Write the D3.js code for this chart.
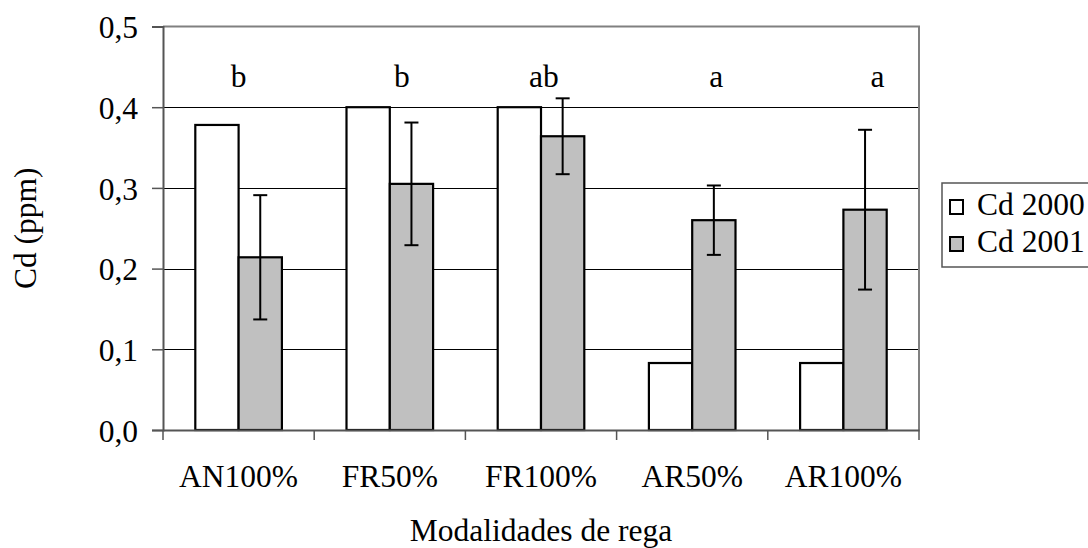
<!DOCTYPE html>
<html>
<head>
<meta charset="utf-8">
<script src="https://cdn.jsdelivr.net/npm/d3@7"></script>
<style>
  body { margin: 0; background: #fff; }
  svg, svg text { font-family: 'Liberation Serif', 'DejaVu Serif', 'Times New Roman', serif !important; }
</style>
</head>
<body>
<svg id="chart" width="1088" height="548"></svg>
<script>
// Data
const categories = ['AN100%', 'FR50%', 'FR100%', 'AR50%', 'AR100%']
const series = ['Cd 2000', 'Cd 2001']
const cd2000 = [0.378, 0.400, 0.400, 0.083, 0.083]
const cd2001 = [0.214, 0.305, 0.364, 0.260, 0.273]
const cd2001Err = [0.077, 0.076, 0.047, 0.043, 0.099]
const letters = ['b', 'b', 'ab', 'a', 'a']
const yTicks = [0, 0.1, 0.2, 0.3, 0.4, 0.5]

// Layout
const plot = {left: 163, right: 919, top: 26.5, bottom: 430}
const letterDx = [0, 12, 3, 24, 34]
const fontSize = 31.5
const serif = "'Liberation Serif', 'DejaVu Serif', 'Times New Roman', serif"
const fills = ['#ffffff', '#c0c0c0']

const svg = d3.select('#chart')

const x0 = d3.scaleBand()
    .domain(categories)
    .range([plot.left, plot.right])
    .padding(0)

const x1 = d3.scaleBand()
    .domain(series)
    .range([0, x0.bandwidth()])
    .paddingInner(0)
    .paddingOuter(0.746)

const y = d3.scaleLinear()
    .domain([0, 0.5])
    .range([plot.bottom, plot.top])

// Gridlines
svg.append('g')
    .selectAll('line')
    .data(yTicks.filter(d => d > 0 && d < 0.5))
    .enter()
    .append('line')
    .attr('x1', plot.left)
    .attr('x2', plot.right)
    .attr('y1', d => Math.round(y(d)) + 0.5)
    .attr('y2', d => Math.round(y(d)) + 0.5)
    .attr('stroke', '#000')
    .attr('stroke-width', 1)

// Plot border (top, right)
svg.append('path')
    .attr('d', `M${plot.left},${plot.top}H${plot.right}V${plot.bottom}`)
    .attr('fill', 'none')
    .attr('stroke', '#808080')
    .attr('stroke-width', 2)

// Bars
const rows = categories.map((c, i) => ({cat: c, values: [cd2000[i], cd2001[i]], err: cd2001Err[i], letter: letters[i], i: i}))

const groups = svg.selectAll('.cat')
    .data(rows)
    .enter()
    .append('g')
    .attr('class', 'cat')
    .attr('transform', d => `translate(${x0(d.cat)},0)`)

groups.selectAll('rect')
    .data(d => d.values.map((v, j) => ({s: series[j], v: v, j: j})))
    .enter()
    .append('rect')
    .attr('x', d => x1(d.s))
    .attr('width', x1.bandwidth())
    .attr('y', d => y(d.v))
    .attr('height', d => y(0) - y(d.v))
    .attr('fill', d => fills[d.j])
    .attr('stroke', '#000')
    .attr('stroke-width', 2.2)

// Error bars for 2001
const errBars = groups.append('g')
    .attr('stroke', '#000')
    .attr('stroke-width', 2)
const cx = x1('Cd 2001') + x1.bandwidth() / 2
errBars.append('line')
    .attr('x1', cx).attr('x2', cx)
    .attr('y1', d => y(d.values[1] + d.err))
    .attr('y2', d => y(d.values[1] - d.err))
errBars.append('line')
    .attr('x1', cx - 7).attr('x2', cx + 7)
    .attr('y1', d => y(d.values[1] + d.err))
    .attr('y2', d => y(d.values[1] + d.err))
errBars.append('line')
    .attr('x1', cx - 7).attr('x2', cx + 7)
    .attr('y1', d => y(d.values[1] - d.err))
    .attr('y2', d => y(d.values[1] - d.err))

// Letters
groups.append('text')
    .attr('x', d => x0.bandwidth() / 2 + letterDx[d.i])
    .attr('y', 87)
    .attr('text-anchor', 'middle')
    .style('font-size', fontSize + 'px')
    .text(d => d.letter)

// Y axis
const yAxis = svg.append('g')
    .attr('transform', `translate(${plot.left},0)`)
    .call(d3.axisLeft(y)
        .tickValues(yTicks)
        .tickSize(11)
        .tickPadding(14)
        .tickFormat(d => d3.format('.1f')(d).replace('.', ',')))
yAxis.attr('font-family', serif).attr('font-size', fontSize)
yAxis.select('.domain').attr('stroke', '#555').attr('stroke-width', 2)
yAxis.selectAll('.tick line').attr('stroke', '#555').attr('stroke-width', 1.5)
yAxis.selectAll('.tick text')
    .attr('fill', '#000')
    .attr('dy', '0.36em')

// X axis
const xAxis = svg.append('g')
    .attr('transform', `translate(0,${plot.bottom})`)
    .call(d3.axisBottom(x0).tickSize(0).tickPadding(35))
xAxis.attr('font-family', serif).attr('font-size', fontSize)
xAxis.select('.domain').attr('stroke', '#555').attr('stroke-width', 2)
xAxis.selectAll('.tick text')
    .attr('fill', '#000')

// Category separator ticks
svg.append('g')
    .selectAll('line')
    .data(categories.concat(['end']))
    .enter()
    .append('line')
    .attr('x1', (d, i) => plot.left + i * x0.step())
    .attr('x2', (d, i) => plot.left + i * x0.step())
    .attr('y1', plot.bottom)
    .attr('y2', plot.bottom + 10)
    .attr('stroke', '#555')
    .attr('stroke-width', 1.5)

// Axis titles
svg.append('text')
    .attr('x', (plot.left + plot.right) / 2)
    .attr('y', 541)
    .attr('text-anchor', 'middle')
    .style('font-size', fontSize + 'px')
    .text('Modalidades de rega')

svg.append('text')
    .attr('transform', `translate(36,${(plot.top + plot.bottom) / 2}) rotate(-90)`)
    .attr('text-anchor', 'middle')
    .style('font-size', fontSize + 'px')
    .text('Cd (ppm)')

// Legend
const legend = svg.append('g').attr('transform', 'translate(942,183)')
legend.append('rect')
    .attr('width', 160)
    .attr('height', 84)
    .attr('fill', '#fff')
    .attr('stroke', '#555')
    .attr('stroke-width', 1.5)

const items = legend.selectAll('.item')
    .data(series)
    .enter()
    .append('g')
    .attr('transform', (d, i) => `translate(8,${17 + i * 37})`)
items.append('rect')
    .attr('width', 13)
    .attr('height', 14)
    .attr('fill', (d, i) => fills[i])
    .attr('stroke', '#000')
    .attr('stroke-width', 2)
items.append('text')
    .attr('x', 27)
    .attr('y', 15)
    .style('font-size', fontSize + 'px')
    .text(d => d)

svg.selectAll('text').style('font-family', serif)
</script>
</body>
</html>
